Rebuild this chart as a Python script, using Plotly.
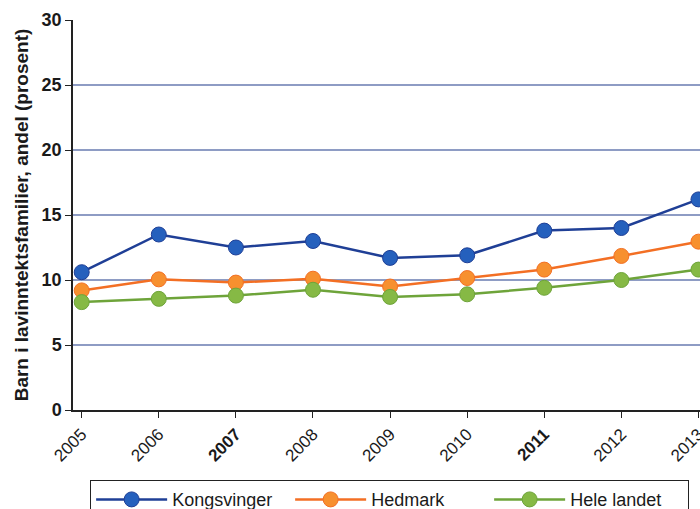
import plotly.graph_objects as go

years = [2005, 2006, 2007, 2008, 2009, 2010, 2011, 2012, 2013]
year_labels = ['2005', '2006', '<b>2007</b>', '2008', '2009', '2010', '<b>2011</b>', '2012', '2013']
kongsvinger = [10.6, 13.5, 12.5, 13.0, 11.7, 11.9, 13.8, 14.0, 16.2]
hedmark = [9.2, 10.05, 9.8, 10.1, 9.5, 10.15, 10.8, 11.85, 12.95]
hele_landet = [8.3, 8.55, 8.8, 9.25, 8.7, 8.9, 9.4, 10.0, 10.8]

series = [
    ('Kongsvinger', kongsvinger, '#1f3f96', '#2560bd'),
    ('Hedmark', hedmark, '#f36f24', '#f7902f'),
    ('Hele landet', hele_landet, '#6ea43a', '#86b945'),
]

fig = go.Figure()
for name, vals, lc, mc in series:
    fig.add_trace(go.Scatter(
        x=years, y=vals, name=name, mode='lines+markers',
        line=dict(color=lc, width=2.5),
        marker=dict(size=15, color=mc, line=dict(color=lc, width=1)),
    ))

fig.update_layout(
    width=700, height=509,
    margin=dict(l=73, r=0, t=20, b=99, autoexpand=False),
    paper_bgcolor='white', plot_bgcolor='white',
    font=dict(family='Liberation Sans, Arial, sans-serif', color='#1a1a1a'),
    showlegend=True,
    legend=dict(
        orientation='h', x=0.505, xanchor='center', y=-0.18, yanchor='top',
        bordercolor='#222', borderwidth=1, font=dict(size=18),
        itemwidth=71, entrywidth=113,
    ),
)
fig.update_xaxes(
    range=[2004.887, 2013.02], tickmode='array', tickvals=years, ticktext=year_labels,
    tickangle=-45, tickfont=dict(size=17), ticklabeloverflow='allow',
    showgrid=False, zeroline=False,
    showline=True, linecolor='#222', linewidth=1.5, ticks='outside', ticklen=6, tickcolor='#222',
)
fig.update_yaxes(
    range=[0, 30], dtick=5, tickfont=dict(size=18, weight='bold'), showgrid=True,
    gridcolor='#8e9cc4', gridwidth=1.5,
    zeroline=False, showline=True, linecolor='#222', linewidth=1.5, ticks='outside', ticklen=6,
    tickcolor='#222',
    title=dict(text='Barn i lavinntektsfamilier, andel (prosent)', font=dict(size=19, weight='bold'),
               standoff=8),
)

# page has a default 8px body margin, drop it so the figure fills the window
fig.write_html('out.html', config={'displayModeBar': False},
               post_script="document.body.style.margin='0';document.body.style.overflow='hidden';")
